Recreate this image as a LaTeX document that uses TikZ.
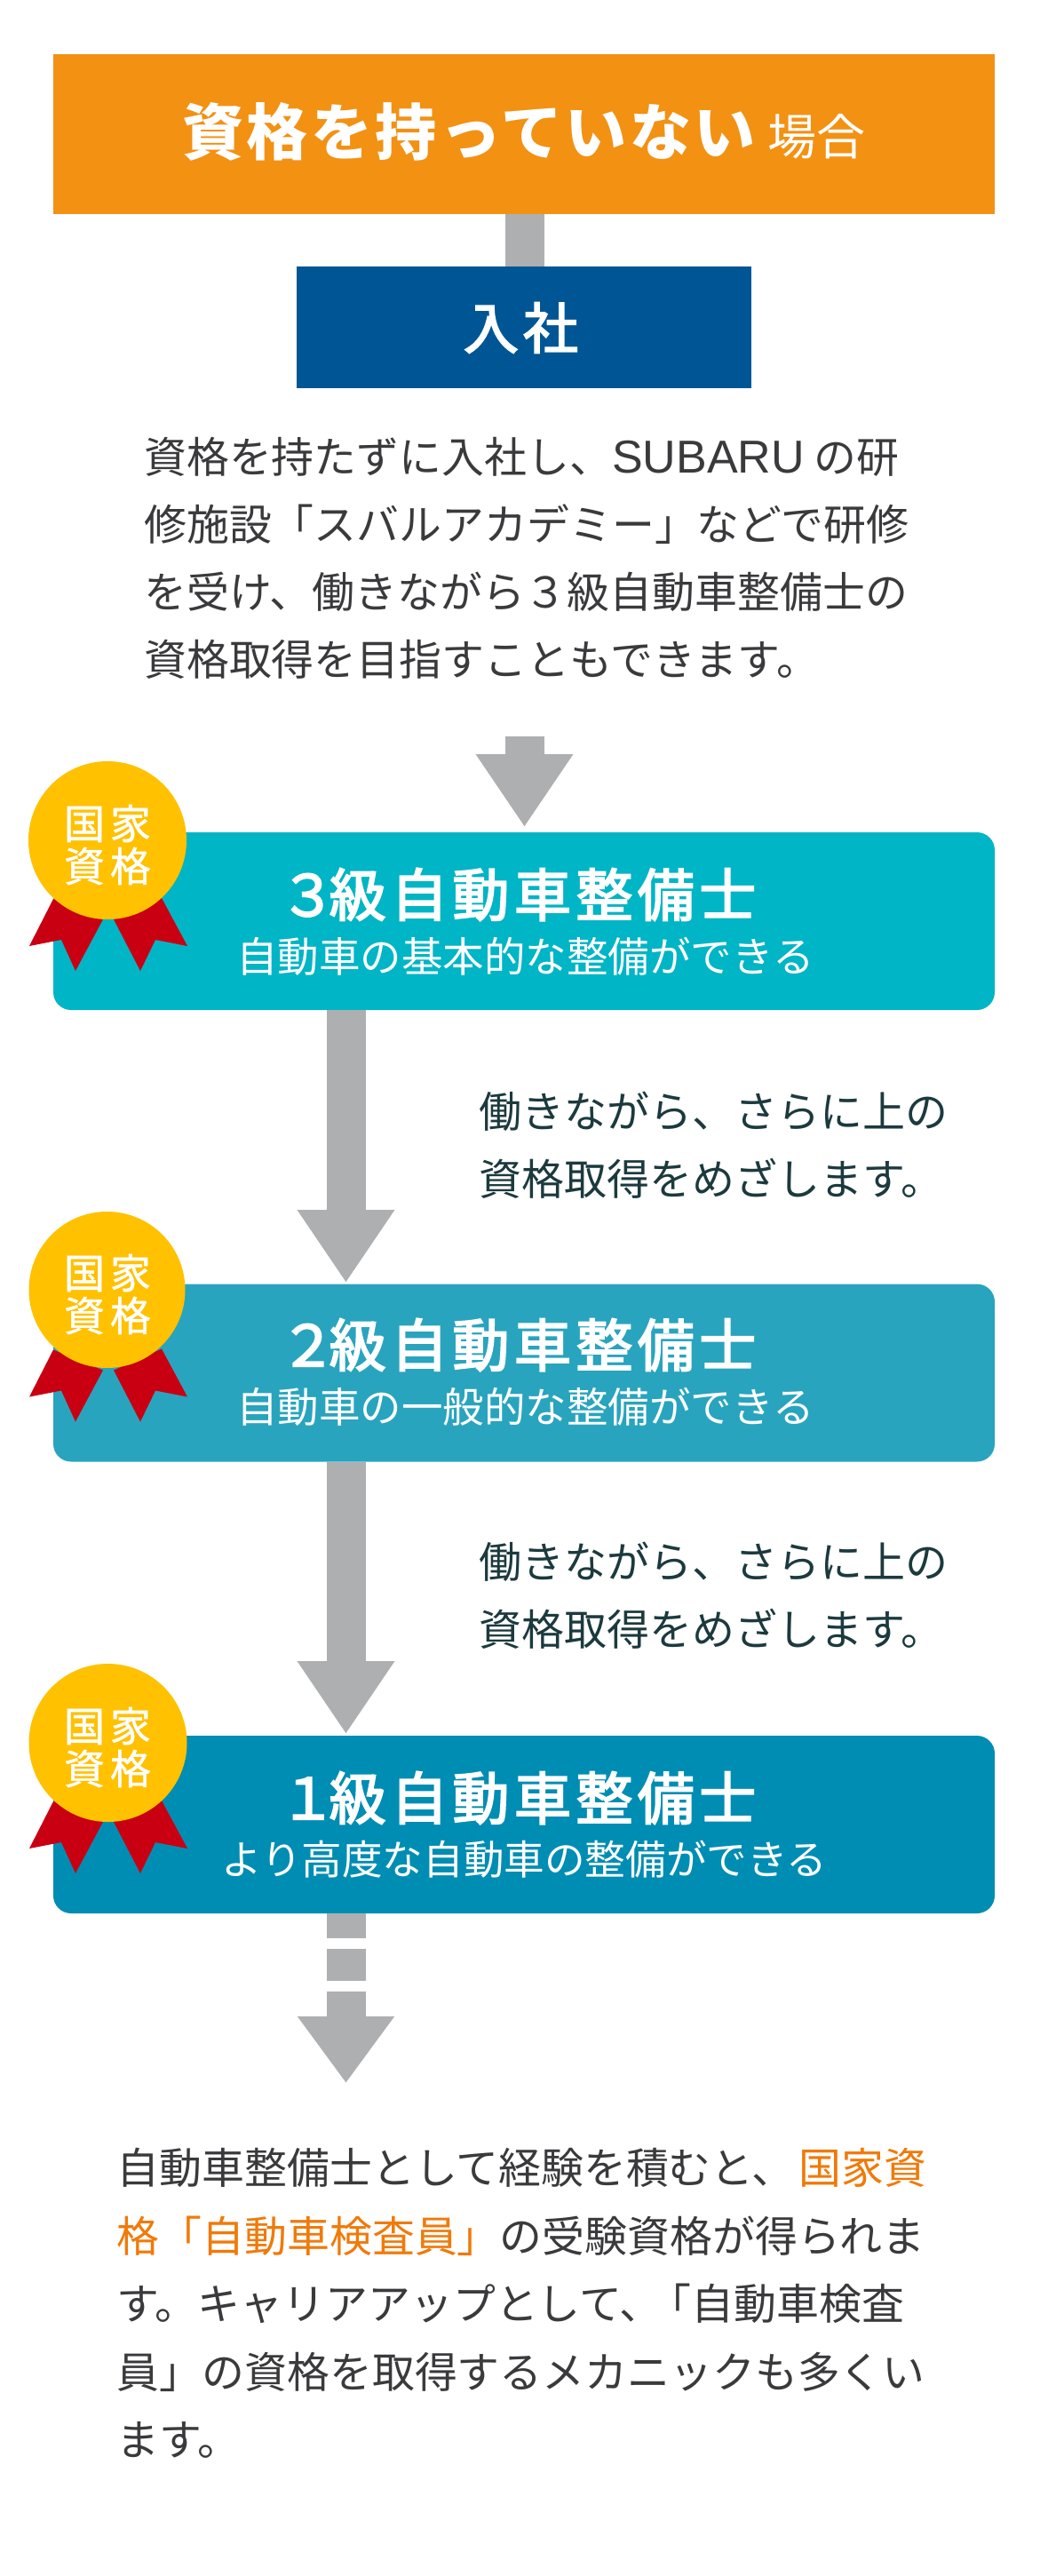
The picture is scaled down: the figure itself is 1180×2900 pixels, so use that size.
\documentclass[tikz,border=0pt]{standalone}
\usepackage{fontspec}
\setmainfont{Noto Sans CJK JP}
\newfontfamily\topfont[LetterSpace=5]{Noto Sans CJK JP}
\newfontfamily\headfont[LetterSpace=8.5,FakeBold=3]{Noto Sans CJK JP}
\newfontfamily\badgefont[LetterSpace=13,FakeBold=1]{Noto Sans CJK JP}
\newfontfamily\latinfont{Liberation Sans}
\usetikzlibrary{arrows.meta}
\definecolor{noLicense}{HTML}{F39113}
\definecolor{joinBlue}{HTML}{005695}
\definecolor{gradeThree}{HTML}{00B5C5}
\definecolor{gradeTwo}{HTML}{29A4BE}
\definecolor{gradeOne}{HTML}{008DB3}
\definecolor{arrowGray}{HTML}{AEAFB1}
\definecolor{medalGold}{HTML}{FFC100}
\definecolor{ribbonRed}{HTML}{C90012}
\definecolor{bodyGray}{HTML}{3A3A3C}
\definecolor{stepTeal}{HTML}{1C3A3E}
\definecolor{examOrange}{HTML}{F07A0A}
\tikzset{
	% The plain header boxes
	head_box/.style={
		rectangle,inner sep=0pt
	},
	% The rounded boxes of the three grades
	grade_box/.style={
		rectangle,rounded corners=20pt,inner sep=0pt,minimum width=1060pt,minimum height=200pt
	},
	% The grade name in a box
	grade_title/.style={
		inner sep=0pt,text=white,font=\headfont\fontsize{64}{66}\selectfont
	},
	% The line under the grade name
	grade_note/.style={
		inner sep=0pt,text=white,font=\fontsize{46.5}{52}\selectfont
	},
	% The gold circle of a badge
	badge/.style={
		circle,fill=medalGold,inner sep=0pt,minimum size=178pt
	},
	% The two words on a badge
	badge_text/.style={
		inner sep=0pt,align=center,text=white,font=\badgefont\fontsize{46}{48}\selectfont
	},
	% The tails of a badge
	ribbon/.style={
		fill=ribbonRed,draw=none
	},
	% The running text
	body_text/.style={
		inner sep=0pt,anchor=west,align=left,text=bodyGray,font=\fontsize{47.9}{76}\selectfont
	},
	% The text beside the arrows
	step_text/.style={
		inner sep=0pt,anchor=west,align=left,text=stepTeal,font=\fontsize{48}{76}\selectfont
	},
	% The wide gray connectors
	block_line/.style={
		draw=arrowGray,line width=44pt
	},
	block_arrow/.style={
		block_line,-{Triangle[width=104pt,length=82pt]}
	},
}
\begin{document}
\begin{tikzpicture}[x=1pt,y=-1pt]
		\useasboundingbox (0,0) rectangle (1180,2900);

		% Free ends of the arrows
		\coordinate (Top start) at (590.5,829);
		\coordinate (Top tip) at (590.5,931);
		\coordinate (Three tip) at (389.5,1444);
		\coordinate (Two tip) at (389.5,1952);
		\coordinate (One tip) at (389.5,2345);

		% Header
		\node [head_box,fill=noLicense,minimum width=1060pt,minimum height=179.5pt] (No license) at (590,150.75) {};
		\node [head_box,fill=joinBlue,minimum width=512pt,minimum height=136.4pt] (Joining) at (590,368.5) {};
		\draw [block_line] (No license.south -| Top tip) -- (Joining.north -| Top tip);
		\node [inner sep=0pt,text=white] (No license text) at (590,148) {\topfont\bfseries\fontsize{69}{70}\selectfont 資格を持っていない\hspace{14pt}\normalfont\fontsize{55}{60}\selectfont 場合};
		\node [inner sep=0pt,text=white] (Joining text) at (586.5,369) {\headfont\fontsize{62}{66}\selectfont 入社};
		\node [body_text] (Join note) at (162,628.5) {資格を持たずに入社し、{\latinfont\fontsize{52}{76}\selectfont SUBARU} の研\\修施設「スバルアカデミー」などで研修\\を受け、働きながら３級自動車整備士の\\資格取得を目指すこともできます。};

		% Grade boxes
		\node [grade_box,fill=gradeThree] (Grade three) at (590,1037) {};
		\node [grade_box,fill=gradeTwo] (Grade two) at (590,1545.5) {};
		\node [grade_box,fill=gradeOne] (Grade one) at (590,2054) {};

		% Arrows
		\draw [block_arrow] (Top start) -- (Top tip);
		\draw [block_arrow] (Grade three.south -| Three tip) -- (Three tip);
		\draw [block_arrow] (Grade two.south -| Two tip) -- (Two tip);
		\draw [block_line,-{Triangle[width=104pt,length=75pt]},dash pattern=on 28pt off 12pt on 36pt off 12pt on 120pt] (Grade one.south -| One tip) -- (One tip);

		% Grade texts
		\node [grade_title] (Three title) at (583,1007) {３\hspace{-8pt}級自動車整備士};
		\node [grade_note] (Three note) at (591.5,1077) {自動車の基本的な整備ができる};
		\node [grade_title] (Two title) at (583,1514) {２\hspace{-8pt}級自動車整備士};
		\node [grade_note] (Two note) at (591.5,1584) {自動車の一般的な整備ができる};
		\node [grade_title] (One title) at (583,2024) {１\hspace{-8pt}級自動車整備士};
		\node [grade_note,font=\fontsize{45.6}{52}\selectfont] (One note) at (590.5,2093.5) {より高度な自動車の整備ができる};

		% Text beside the arrows
		\node [step_text] (Three step) at (539,1289) {働きながら、さらに上の\\資格取得をめざします。};
		\node [step_text] (Two step) at (539,1796) {働きながら、さらに上の\\資格取得をめざします。};

		% Badges
		\fill [ribbon] (60,1012) -- (33,1065) -- (69,1058) -- (85,1093) -- (116,1035) -- cycle;
		\fill [ribbon] (128,1035) -- (158,1093) -- (175,1058) -- (211,1065) -- (182,1011) -- cycle;
		\node [badge] (Badge three) at (121,946) {};
		\node [badge_text] (Badge three text) at (121,951) {国家\\資格};
		\fill [ribbon] (60,1519.5) -- (33,1572.5) -- (69,1565.5) -- (85,1600.5) -- (116,1542.5) -- cycle;
		\fill [ribbon] (128,1542.5) -- (158,1600.5) -- (175,1565.5) -- (211,1572.5) -- (182,1518.5) -- cycle;
		\node [badge,minimum size=176pt] (Badge two) at (120.5,1452) {};
		\node [badge_text] (Badge two text) at (121,1457) {国家\\資格};
		\fill [ribbon] (60,2028) -- (33,2081) -- (69,2074) -- (85,2109) -- (116,2051) -- cycle;
		\fill [ribbon] (128,2051) -- (158,2109) -- (175,2074) -- (211,2081) -- (182,2027) -- cycle;
		\node [badge] (Badge one) at (121.5,1962) {};
		\node [badge_text] (Badge one text) at (121,1967) {国家\\資格};

		% Closing text
		\node [body_text,font=\fontsize{47.9}{76.5}\selectfont] (Closing note) at (131.5,2593) {自動車整備士として経験を積むと、\hspace{5pt}{\color{examOrange}国家資}\\{\color{examOrange}格「自動車検査員」}の受験資格が得られま\\す。キャリアアップとして、\hspace{-15pt}「自動車検査\\員」の資格を取得するメカニックも多くい\\ます。};
	\end{tikzpicture}
\end{document}
